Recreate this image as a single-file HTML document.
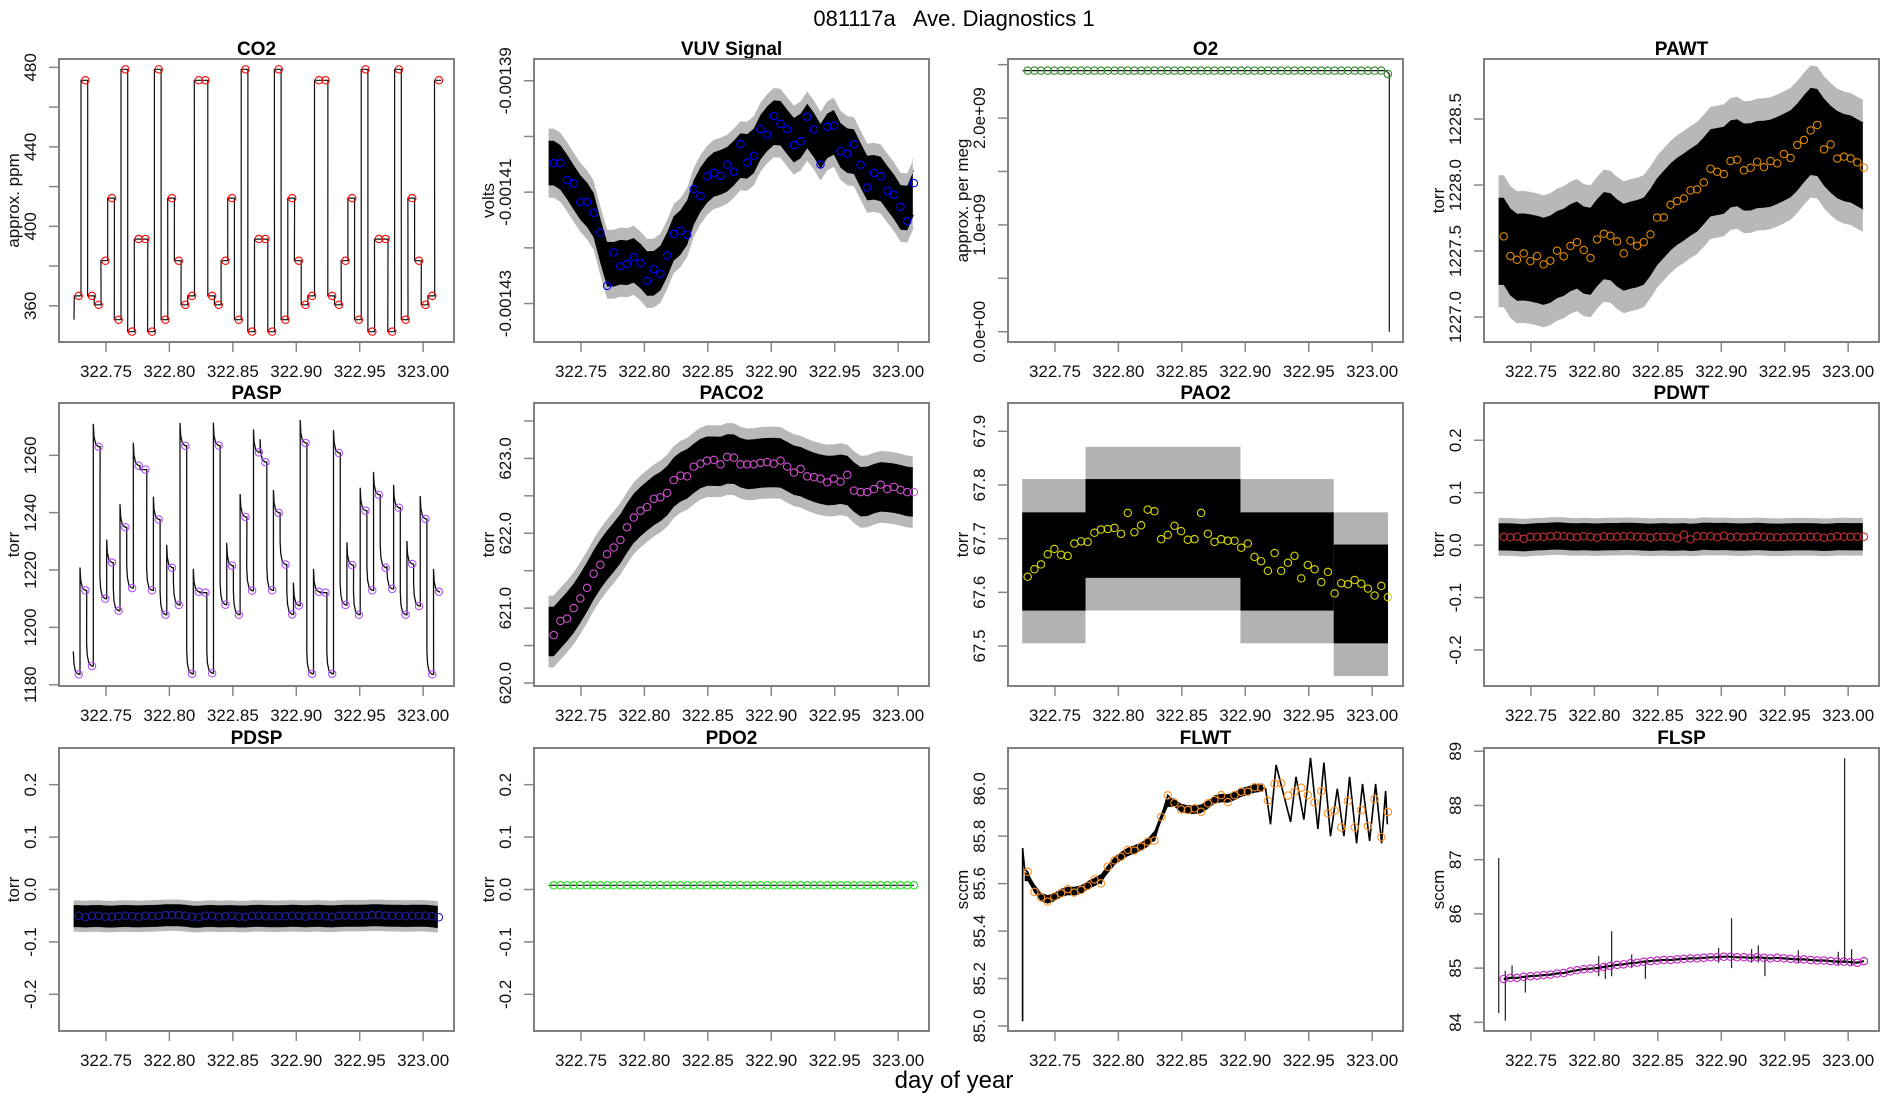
<!DOCTYPE html>
<html><head><meta charset="utf-8"><title>081117a Ave. Diagnostics 1</title>
<style>html,body{margin:0;padding:0;background:#fff}svg{display:block}text{font-family:"Liberation Sans",sans-serif}</style>
</head><body>
<svg id="chart" width="1900" height="1100" viewBox="0 0 1900 1100" xmlns="http://www.w3.org/2000/svg">
<rect width="1900" height="1100" fill="#fff"/>
<text x="954" y="26" font-size="22" text-anchor="middle" xml:space="preserve">081117a   Ave. Diagnostics 1</text>
<text x="954" y="1088" font-size="24" text-anchor="middle">day of year</text>
</svg>
<script>
// sample times (day of year)
const times=[322.7285,322.7338,322.7390,322.7443,322.7495,322.7548,322.7600,322.7653,322.7706,322.7758,322.7811,322.7863,322.7916,322.7969,322.8021,322.8074,322.8126,322.8179,322.8231,322.8284,322.8337,322.8389,322.8442,322.8494,322.8547,322.8600,322.8652,322.8705,322.8757,322.8810,322.8862,322.8915,322.8968,322.9020,322.9073,322.9125,322.9178,322.9231,322.9283,322.9336,322.9388,322.9441,322.9493,322.9546,322.9599,322.9651,322.9704,322.9756,322.9809,322.9862,322.9914,322.9967,323.0019,323.0072,323.0124];
const xTicks=[322.75,322.80,322.85,322.90,322.95,323.00];
const xTickLabels=["322.75","322.80","322.85","322.90","322.95","323.00"];
const co2Values=[365,473.5,365,360.5,382.7,414.2,353,479,347,393.6,393.6,347,479,353,414.2,382.7,360.5,365,473.5,473.5,365,360.5,382.7,414.2,353,479,347,393.6,393.6,347,479,353,414.2,382.7,360.5,365,473.5,473.5,365,360.5,382.7,414.2,353,479,347,393.6,393.6,347,479,353,414.2,382.7,360.5,365,473.5];
const vuvValues=[-0.00140479,-0.00140479,-0.00140784,-0.00140850,-0.00141174,-0.00141180,-0.00141371,-0.00141725,-0.00142683,-0.00142084,-0.00142329,-0.00142287,-0.00142168,-0.00142275,-0.00142593,-0.00142383,-0.00142467,-0.00142138,-0.00141749,-0.00141695,-0.00141766,-0.00140946,-0.00141072,-0.00140719,-0.00140653,-0.00140707,-0.00140509,-0.00140635,-0.00140138,-0.00140473,-0.00140347,-0.00139868,-0.00139970,-0.00139635,-0.00139772,-0.00139874,-0.00140156,-0.00140084,-0.00139647,-0.00139874,-0.00140503,-0.00139826,-0.00139808,-0.00140263,-0.00140311,-0.00140138,-0.00140509,-0.00140916,-0.00140653,-0.00140713,-0.00140976,-0.00141048,-0.00141263,-0.00141521,-0.00140838];
const o2Values=[2.444e9,2.444e9,2.444e9,2.444e9,2.444e9,2.444e9,2.444e9,2.444e9,2.444e9,2.444e9,2.444e9,2.444e9,2.444e9,2.444e9,2.444e9,2.444e9,2.444e9,2.444e9,2.444e9,2.444e9,2.444e9,2.444e9,2.444e9,2.444e9,2.444e9,2.444e9,2.444e9,2.444e9,2.444e9,2.444e9,2.444e9,2.444e9,2.444e9,2.444e9,2.444e9,2.444e9,2.444e9,2.444e9,2.444e9,2.444e9,2.444e9,2.444e9,2.444e9,2.444e9,2.444e9,2.444e9,2.444e9,2.444e9,2.444e9,2.444e9,2.444e9,2.444e9,2.444e9,2.444e9,2.413e9];
const pawtValues=[1227.611,1227.462,1227.434,1227.482,1227.424,1227.462,1227.399,1227.427,1227.503,1227.460,1227.538,1227.568,1227.508,1227.447,1227.588,1227.631,1227.616,1227.573,1227.482,1227.578,1227.540,1227.568,1227.626,1227.753,1227.755,1227.851,1227.879,1227.899,1227.960,1227.967,1228.020,1228.124,1228.101,1228.083,1228.182,1228.192,1228.111,1228.131,1228.177,1228.136,1228.182,1228.164,1228.235,1228.205,1228.303,1228.341,1228.414,1228.455,1228.270,1228.308,1228.200,1228.215,1228.202,1228.172,1228.131];
const paspValues=[1183.6,1212.9,1186.5,1263,1210,1222.6,1205.8,1234.9,1213.7,1256.4,1255,1212.9,1237.6,1204.4,1220.8,1207.8,1263.3,1183.8,1212.4,1212.1,1184,1263.4,1207.9,1221.5,1204.4,1238.5,1212.8,1261,1257.6,1212.9,1239.9,1221.9,1204.5,1207.6,1264.3,1183.8,1212.4,1212.1,1183.8,1260.8,1207.8,1221.7,1204.4,1240.7,1212.9,1246.2,1220.8,1213.4,1241.7,1204.4,1222.1,1207.4,1237.8,1183.6,1212.4];
const paco2Values=[620.64,620.83,620.86,621.0,621.13,621.27,621.46,621.58,621.72,621.81,621.91,622.08,622.21,622.30,622.35,622.46,622.48,622.54,622.71,622.77,622.76,622.89,622.93,622.97,622.98,622.92,623.02,623.01,622.92,622.92,622.92,622.94,622.95,622.93,622.97,622.89,622.81,622.86,622.76,622.75,622.73,622.68,622.73,622.69,622.78,622.57,622.55,622.55,622.59,622.65,622.59,622.62,622.58,622.55,622.55];
const pao2Values=[67.629,67.643,67.652,67.671,67.681,67.670,67.668,67.691,67.695,67.694,67.711,67.717,67.718,67.720,67.709,67.748,67.712,67.725,67.754,67.751,67.699,67.707,67.724,67.714,67.698,67.699,67.748,67.709,67.694,67.699,67.696,67.696,67.683,67.691,67.666,67.658,67.640,67.673,67.640,67.655,67.668,67.626,67.651,67.643,67.619,67.638,67.598,67.617,67.615,67.623,67.616,67.607,67.594,67.612,67.591];
const pao2SegStart=[322.7242,322.7741,322.8962,322.9697];
const pao2SegEnd=[322.7741,322.8962,322.9697,323.0125];
const pao2CoreLo=[67.566,67.627,67.566,67.505];
const pao2CoreHi=[67.749,67.811,67.749,67.689];
const pao2OuterLo=[67.505,67.566,67.505,67.444];
const pao2OuterHi=[67.811,67.871,67.811,67.749];
const pdwtValues=[0.016,0.015,0.016,0.012,0.016,0.016,0.016,0.017,0.018,0.017,0.016,0.015,0.017,0.016,0.014,0.017,0.016,0.016,0.017,0.017,0.016,0.016,0.014,0.016,0.016,0.016,0.013,0.020,0.011,0.017,0.017,0.017,0.015,0.018,0.015,0.016,0.015,0.016,0.017,0.016,0.015,0.015,0.015,0.016,0.016,0.016,0.016,0.016,0.014,0.015,0.017,0.016,0.016,0.016,0.016];
const pdspValues=[-0.050,-0.053,-0.050,-0.050,-0.052,-0.052,-0.051,-0.050,-0.051,-0.052,-0.050,-0.051,-0.050,-0.049,-0.049,-0.049,-0.050,-0.052,-0.053,-0.050,-0.050,-0.052,-0.051,-0.050,-0.052,-0.052,-0.050,-0.050,-0.051,-0.051,-0.051,-0.051,-0.050,-0.050,-0.052,-0.050,-0.050,-0.051,-0.052,-0.050,-0.050,-0.050,-0.050,-0.050,-0.049,-0.049,-0.050,-0.050,-0.050,-0.051,-0.050,-0.050,-0.050,-0.051,-0.053];
const pdo2Values=[0.008,0.008,0.008,0.008,0.008,0.008,0.008,0.008,0.008,0.008,0.008,0.008,0.008,0.008,0.008,0.008,0.008,0.008,0.008,0.008,0.008,0.008,0.008,0.008,0.008,0.008,0.008,0.008,0.008,0.008,0.008,0.008,0.008,0.008,0.008,0.008,0.008,0.008,0.008,0.008,0.008,0.008,0.008,0.008,0.008,0.008,0.008,0.008,0.008,0.008,0.008,0.008,0.008,0.008,0.008];
const flwtValues=[85.650,85.565,85.542,85.524,85.545,85.559,85.577,85.562,85.573,85.591,85.618,85.601,85.671,85.698,85.713,85.742,85.739,85.756,85.777,85.781,85.881,85.972,85.940,85.913,85.910,85.917,85.903,85.938,85.952,85.973,85.944,85.973,85.987,85.987,86.006,86.004,85.949,86.021,86.022,85.971,85.987,86.004,85.973,85.942,85.990,85.896,85.907,85.837,85.948,85.837,85.910,85.843,85.956,85.796,85.902];
const flwtOscT=[322.9160,322.9199,322.9243,322.9357,322.9400,322.9462,322.9514,322.9572,322.9620,322.9672,322.9725,322.9777,322.9822,322.9877,322.9924,322.9980,323.0027,323.0074,323.0106,323.0120];
const flwtOscV=[86.00,85.85,86.10,85.86,86.05,85.87,86.13,85.83,86.11,85.80,86.00,85.80,86.05,85.77,86.02,85.78,86.02,85.77,85.99,85.85];
const flspValues=[84.80,84.82,84.82,84.84,84.85,84.86,84.87,84.88,84.90,84.91,84.94,84.96,84.98,84.99,85.00,85.02,85.04,85.06,85.07,85.09,85.10,85.12,85.13,85.14,85.15,85.15,85.16,85.17,85.18,85.18,85.19,85.20,85.20,85.21,85.21,85.20,85.20,85.19,85.20,85.19,85.18,85.19,85.18,85.17,85.16,85.16,85.15,85.14,85.14,85.13,85.12,85.12,85.11,85.10,85.13];
const flspSpikeT=[322.7246,322.7298,322.7351,322.7456,322.8034,322.8086,322.8136,322.8294,322.8402,322.8979,322.9081,322.9239,322.9292,322.9344,322.9607,322.9922,322.9972,323.0027];
const flspSpikeLo=[84.17,84.03,84.80,84.55,84.85,84.80,84.85,85.00,84.80,85.10,85.00,85.10,85.10,84.85,85.10,85.05,85.10,85.05];
const flspSpikeHi=[87.03,84.95,85.05,84.85,85.22,85.10,85.68,85.25,85.10,85.37,85.92,85.35,85.42,85.20,85.33,85.30,88.87,85.35];

const svg=document.getElementById('chart');
const NS='http://www.w3.org/2000/svg';
const XMIN=322.713, XMAX=323.0243, W=395, H=283;
const colLeft=[59,534,1008,1484], rowTop=[59,403,748];
function mk(tag,attrs,parent){const e=document.createElementNS(NS,tag);for(const k in attrs)e.setAttribute(k,attrs[k]);(parent||svg).appendChild(e);return e;}

function makePanel(col,row,name,title,ylab,ylo,yhi,yticks,ylabels){
  const L=colLeft[col],T=rowTop[row];
  const g=mk('g',{});
  
  
  const sx=d=>L+(d-XMIN)/(XMAX-XMIN)*W;
  const sy=v=>T+(yhi-v)/(yhi-ylo)*H;
  const clip=mk('clipPath',{id:'clip-'+name},g);
  mk('rect',{x:L,y:T,width:W,height:H},clip);
  const plot=mk('g',{'clip-path':'url(#clip-'+name+')'},g);
  
  
  const xa=mk('g',{},g);
  
  
  xTicks.forEach((t,i)=>{
    const x=sx(t);
    const tk=mk('line',{x1:x,x2:x,y1:T+H,y2:T+H+10,stroke:'#888','stroke-width':1.5},xa);
    
    
    const lb=mk('text',{x:x,y:T+H+35,'font-size':17,'text-anchor':'middle',fill:'#111'},xa);
    
    
    lb.textContent=xTickLabels[i];
  });
  const ya=mk('g',{},g);
  
  
  mk('line',{x1:L,x2:L,y1:sy(yticks[0]),y2:sy(yticks[yticks.length-1]),stroke:'#666','stroke-width':1.5},ya);
  yticks.forEach((t,i)=>{
    const y=sy(t);
    const tk=mk('line',{x1:L-10,x2:L,y1:y,y2:y,stroke:'#888','stroke-width':1.5},ya);
    
    
    if(ylabels[i]){
      const lb=mk('text',{x:L-23,y:y,'font-size':17,'text-anchor':'middle',fill:'#111',transform:'rotate(-90 '+(L-23)+' '+y+')'},ya);
      
      
      lb.textContent=ylabels[i];
    }
  });
  const yl=mk('text',{x:L-40,y:T+H/2,'font-size':17,'text-anchor':'middle',fill:'#111',transform:'rotate(-90 '+(L-40)+' '+(T+H/2)+')'},g);
  
  
  yl.textContent=ylab;
  const tt=mk('text',{x:L+W/2,y:T-4,'font-size':19,'font-weight':'bold','text-anchor':'middle',fill:'#000'},g);
  
  
  tt.textContent=title;
  const box=mk('rect',{x:L,y:T,width:W,height:H,fill:'none',stroke:'#808080','stroke-width':2},g);
  
  
  return {plot,sx,sy};
}
function circles(p,vals,color,name){
  const g=mk('g',{},p.plot);
  
  
  vals.forEach((v,i)=>{
    const c=mk('circle',{cx:p.sx(times[i]),cy:p.sy(v),r:3.7,fill:'none',stroke:color,'stroke-width':1.1},g);
    
    
  });
}
function poly(p,pts,attrs,name){
  const d=pts.map(q=>p.sx(q[0]).toFixed(1)+','+p.sy(q[1]).toFixed(1)).join(' ');
  const e=mk('polyline',Object.assign({points:d,fill:'none'},attrs),p.plot);
  
  
  return e;
}
function smooth(vals){return vals.map((v,i)=>{const a=vals[Math.max(0,i-1)],b=vals[Math.min(vals.length-1,i+1)];return (a+2*v+b)/4;});}
function band(p,vals,half,t0,t1,attrs,name){
  const s=smooth(vals);
  const up=[[t0,s[0]+half]],dn=[[t0,s[0]-half]];
  s.forEach((v,i)=>{up.push([times[i],v+half]);dn.push([times[i],v-half]);});
  up.push([t1,s[s.length-1]+half]);dn.push([t1,s[s.length-1]-half]);
  const pts=up.concat(dn.reverse());
  const d=pts.map(q=>p.sx(q[0]).toFixed(1)+','+p.sy(q[1]).toFixed(1)).join(' ');
  const e=mk('polygon',Object.assign({points:d},attrs),p.plot);
  
  
}
const dt=times[1]-times[0];
function steps(vals,pre,post,spike){
  const pts=[];
  vals.forEach((v,i)=>{
    const a=times[i]-pre*dt,b=times[i]+post*dt;
    const prev=i>0?vals[i-1]:v-10;
    if(spike&&Math.abs(v-prev)>3){pts.push([a,v+spike]);pts.push([a+0.1*dt,v+spike*0.45]);pts.push([a+0.35*dt,v+spike*0.1]);pts.push([times[i],v]);}
    else pts.push([a,v]);
    pts.push([b,v]);
  });
  return pts;
}
const OUTER=0.28;

// CO2
let p=makePanel(0,0,'co2','CO2','approx. ppm',341.8,484.2,[360,380,400,420,440,460,480],['360','','400','','440','','480']);
poly(p,[[322.7248,353]].concat(steps(co2Values,0.65,0.35,0)),{stroke:'#111','stroke-width':1.2},'co2-line');
circles(p,co2Values,'#ff0000','co2');
// VUV
p=makePanel(1,0,'vuv','VUV Signal','volts',-0.0014369,-0.0013861,[-0.00143,-0.00142,-0.00141,-0.00140,-0.00139],['-0.00143','','-0.00141','','-0.00139']);
band(p,vuvValues,0.0000062,322.7245,323.0115,{fill:'#000','fill-opacity':OUTER},'vuv-noise-outer');
band(p,vuvValues,0.0000040,322.7245,323.0115,{fill:'#000'},'vuv-noise-band');
circles(p,vuvValues,'#0000ff','vuv');
// O2
p=makePanel(2,0,'o2','O2','approx. per meg',-0.0964e9,2.553e9,[0,0.5e9,1e9,1.5e9,2e9,2.5e9],['0.0e+00','','1.0e+09','','2.0e+09','']);
poly(p,[[322.7245,o2Values[0]],[323.0110,o2Values[53]],[323.0135,o2Values[54]],[323.0135,0]],{stroke:'#111','stroke-width':1.2},'o2-line');
circles(p,o2Values,'#2e8b2e','o2');
// PAWT
p=makePanel(3,0,'pawt','PAWT','torr',1226.811,1228.955,[1227.0,1227.5,1228.0,1228.5],['1227.0','1227.5','1228.0','1228.5']);
band(p,pawtValues,0.5,322.7245,323.0115,{fill:'#000','fill-opacity':OUTER},'pawt-noise-outer');
band(p,pawtValues,0.33,322.7245,323.0115,{fill:'#000'},'pawt-noise-band');
circles(p,pawtValues,'#e08a00','pawt');
// PASP
p=makePanel(0,1,'pasp','PASP','torr',1179.55,1278.24,[1180,1200,1220,1240,1260],['1180','1200','1220','1240','1260']);
poly(p,steps(paspValues,0.8,0.2,8),{stroke:'#111','stroke-width':1.3},'pasp-line');
circles(p,paspValues,'#b050ff','pasp');
// PACO2
p=makePanel(1,1,'paco2','PACO2','torr',619.96,623.74,[620.0,620.5,621.0,621.5,622.0,622.5,623.0,623.5],['620.0','','621.0','','622.0','','623.0','']);
band(p,paco2Values,0.48,322.7245,323.0115,{fill:'#000','fill-opacity':OUTER},'paco2-noise-outer');
band(p,paco2Values,0.33,322.7245,323.0115,{fill:'#000'},'paco2-noise-band');
circles(p,paco2Values,'#d050d0','paco2');
// PAO2
p=makePanel(2,1,'pao2','PAO2','torr',67.4255,67.9527,[67.5,67.6,67.7,67.8,67.9],['67.5','67.6','67.7','67.8','67.9']);
pao2SegStart.forEach((s,i)=>{
  const o=mk('rect',{x:p.sx(s),y:p.sy(pao2OuterHi[i]),width:p.sx(pao2SegEnd[i])-p.sx(s),height:p.sy(pao2OuterLo[i])-p.sy(pao2OuterHi[i]),fill:'#000','fill-opacity':0.3},p.plot);
  
  
  const c=mk('rect',{x:p.sx(s),y:p.sy(pao2CoreHi[i]),width:p.sx(pao2SegEnd[i])-p.sx(s),height:p.sy(pao2CoreLo[i])-p.sy(pao2CoreHi[i]),fill:'#000'},p.plot);
  
  
});
circles(p,pao2Values,'#d8d800','pao2');
// PDWT
p=makePanel(3,1,'pdwt','PDWT','torr',-0.2687,0.2711,[-0.2,-0.1,0,0.1,0.2],['-0.2','-0.1','0.0','0.1','0.2']);
band(p,pdwtValues,0.036,322.7245,323.0115,{fill:'#000','fill-opacity':OUTER},'pdwt-noise-outer');
band(p,pdwtValues,0.026,322.7245,323.0115,{fill:'#000'},'pdwt-noise-band');
circles(p,pdwtValues,'#c03030','pdwt');
// PDSP
p=makePanel(0,2,'pdsp','PDSP','torr',-0.27,0.27,[-0.2,-0.1,0,0.1,0.2],['-0.2','-0.1','0.0','0.1','0.2']);
band(p,pdspValues,0.03,322.7245,323.0115,{fill:'#000','fill-opacity':OUTER},'pdsp-noise-outer');
band(p,pdspValues,0.021,322.7245,323.0115,{fill:'#000'},'pdsp-noise-band');
circles(p,pdspValues,'#2020a0','pdsp');
// PDO2
p=makePanel(1,2,'pdo2','PDO2','torr',-0.27,0.27,[-0.2,-0.1,0,0.1,0.2],['-0.2','-0.1','0.0','0.1','0.2']);
poly(p,[[322.7245,pdo2Values[0]],[323.0124,pdo2Values[54]]],{stroke:'#111','stroke-width':1.2},'pdo2-line');
circles(p,pdo2Values,'#20e020','pdo2');
// FLWT
p=makePanel(2,2,'flwt','FLWT','sccm',84.979,86.1715,[85.0,85.2,85.4,85.6,85.8,86.0],['85.0','85.2','85.4','85.6','85.8','86.0']);
const flwtFirst=flwtValues.slice(0,36);
band(p,flwtFirst,0.018,322.7262,322.9140,{fill:'#000'},'flwt-noise-band');
poly(p,[[322.7245,85.02],[322.7245,85.75],[322.7262,85.66]].concat(flwtFirst.map((v,i)=>[times[i],v])).concat(flwtOscT.map((t,i)=>[t,flwtOscV[i]])),{stroke:'#000','stroke-width':1.6},'flwt-line');
circles(p,flwtValues,'#ff9020','flwt');
// FLSP
p=makePanel(3,2,'flsp','FLSP','sccm',83.84,89.06,[84,85,86,87,88,89],['84','85','86','87','88','89']);
flspSpikeT.forEach((t,i)=>{
  const l=mk('line',{x1:p.sx(t),x2:p.sx(t),y1:p.sy(flspSpikeLo[i]),y2:p.sy(flspSpikeHi[i]),stroke:'#222','stroke-width':1.2},p.plot);
  
  
});
poly(p,flspValues.map((v,i)=>[times[i],v]),{stroke:'#000','stroke-width':2.2},'flsp-line');
circles(p,flspValues,'#c020c0','flsp');
</script>
</body></html>
